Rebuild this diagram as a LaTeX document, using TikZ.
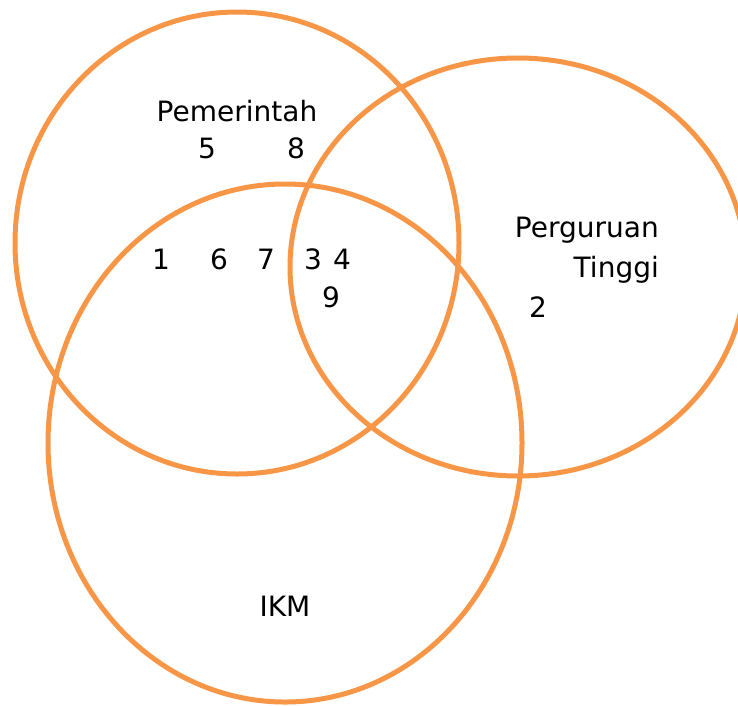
\documentclass[tikz,border=0pt]{standalone}
\usepackage{fontspec}
\setmainfont{DejaVu Sans}
\usetikzlibrary{positioning,calc}
\definecolor{vennorange}{HTML}{F79646}
\begin{document}
\begin{tikzpicture}[x=1pt,y=-1pt,
        set/.style={draw=vennorange,line width=5pt},
        lbl/.style={inner sep=0pt,font=\fontsize{28}{33}\selectfont}]
        % fix the frame
        \useasboundingbox (0,0) rectangle (738,705);
        % draw the three sets
        \draw[set] (237,243) ellipse [x radius=222,y radius=231];
        \draw[set] (518,267) ellipse [x radius=228,y radius=209];
        \draw[set] (285,443) ellipse [x radius=237,y radius=259];
        % draw set names
        \node[lbl] (pemerintah) at (237,111) {Pemerintah};
        \node[lbl,anchor=east] (perguruan) at (659,230) {Perguruan};
        \node[lbl,anchor=east] (tinggi) at (659,270) {Tinggi};
        \node[lbl] (ikm) at (285,606) {IKM};
        % draw members
        \node[lbl] (n5) at (207,148) {5};
        \node[lbl] (n8) at (296,148) {8};
        \node[lbl] (n1) at (161,259) {1};
        \node[lbl] (n6) at (219,259) {6};
        \node[lbl] (n7) at (266,259) {7};
        \node[lbl] (n3) at (313,259) {3};
        \node[lbl] (n4) at (342,259) {4};
        \node[lbl] (n9) at (331,297) {9};
        \node[lbl] (n2) at (538,307) {2};
\end{tikzpicture}
\end{document}
